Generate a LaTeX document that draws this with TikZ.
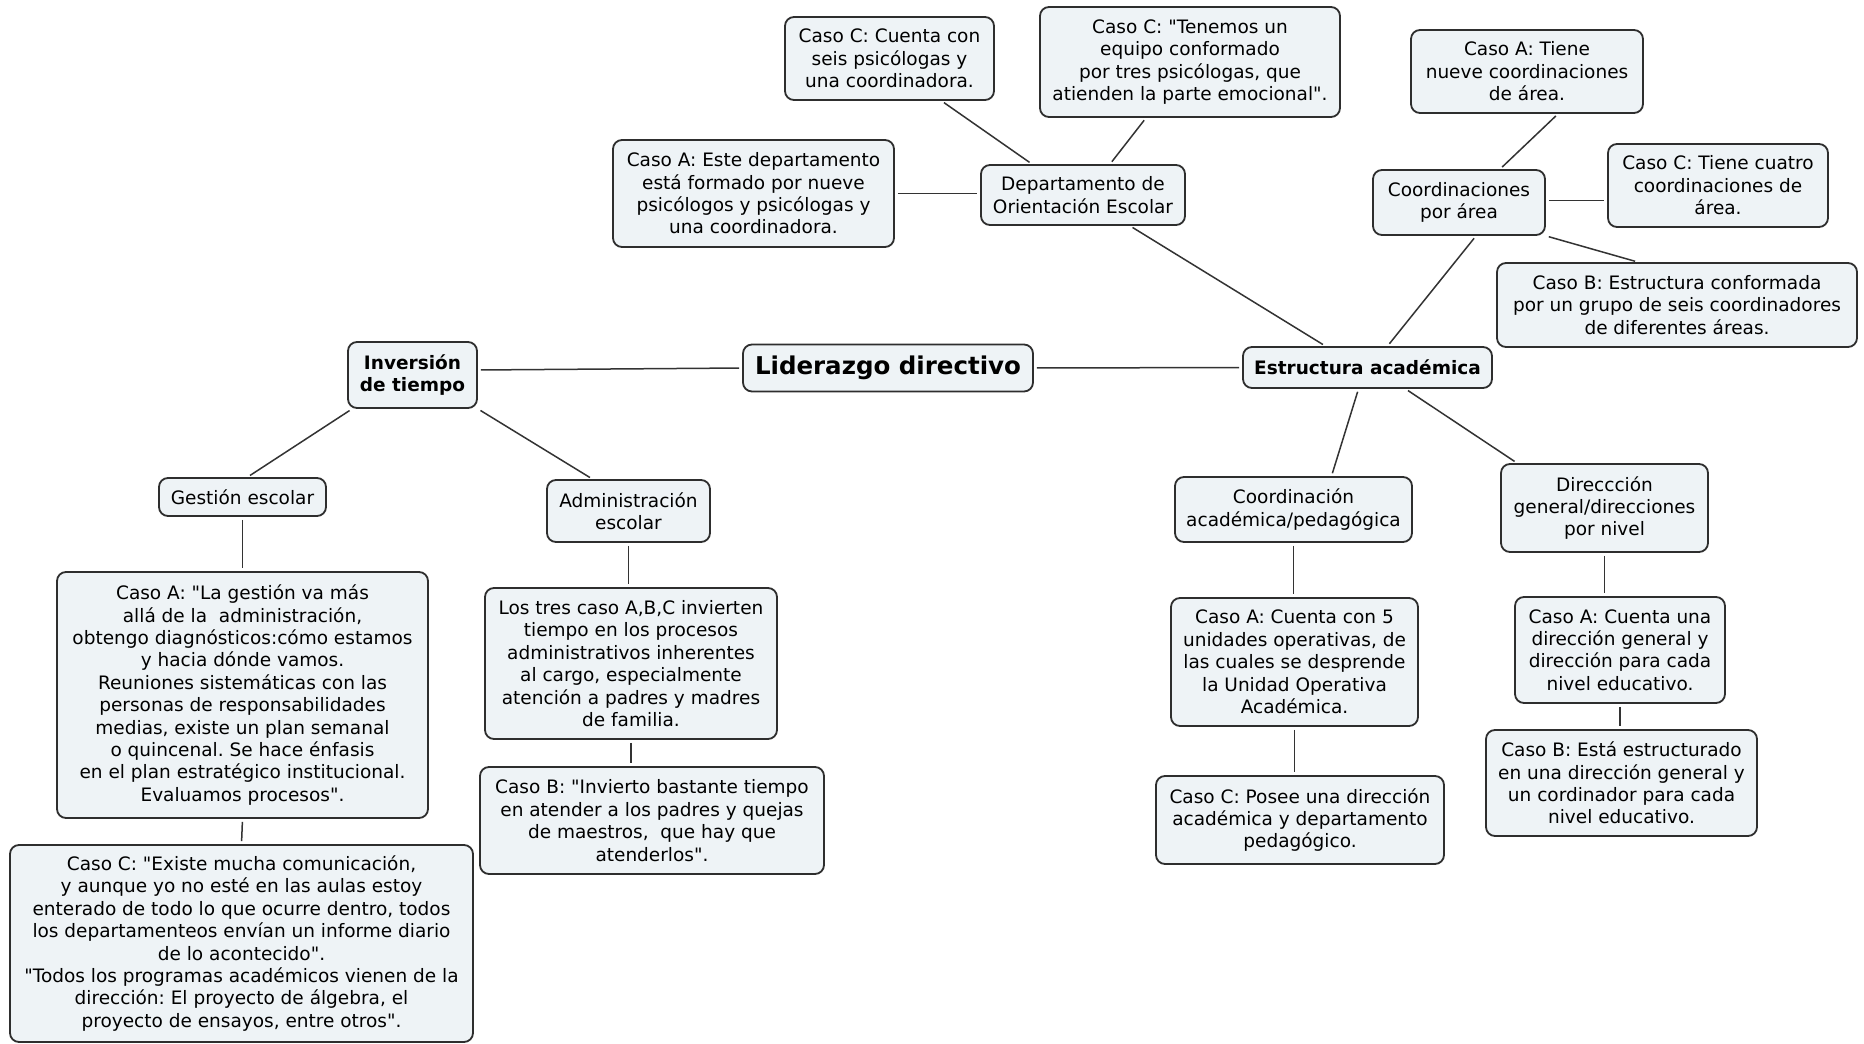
\documentclass[tikz,border=0pt]{standalone}
\usepackage{fontspec}
\setmainfont{DejaVu Sans}[Ligatures=TeXOff]
\usetikzlibrary{calc}
\definecolor{boxfill}{HTML}{EEF3F6}
\definecolor{boxline}{HTML}{2E2E2E}
\definecolor{linkline}{HTML}{333333}
% straight double quote
\newcommand{\dq}{\symbol{34}}
\frenchspacing
\begin{document}
\begin{tikzpicture}[x=1pt,y=-1pt,
  box/.style={draw=boxline, fill=boxfill, line width=1.8pt, rounded corners=9pt,
    align=center, inner sep=0pt, font=\fontsize{18.5}{22.4}\selectfont},
  bbox/.style={box, font=\fontsize{18.5}{22.4}\selectfont\bfseries},
  mainbox/.style={box, font=\fontsize{24.5}{28}\selectfont\bfseries},
  link/.style={draw=linkline, line width=1.5pt, shorten <=3pt, shorten >=3pt}]
\useasboundingbox (0,0) rectangle (1864,1044);
\fill[white] (0,0) rectangle (1864,1044);

% central topic and main branches
\node[mainbox, minimum width=290, minimum height=47] (lid) at (888,368) {Liderazgo directivo};
\node[bbox, minimum width=129, minimum height=66] (inv) at (412.5,375) {Inversión\\de tiempo};
\node[bbox, minimum width=249, minimum height=41] (est) at (1367.5,367.5) {Estructura académica};

% upper branch: orientation department
\node[box, minimum width=204, minimum height=60] (dep) at (1083,195) {Departamento de\\Orientación Escolar};
\node[box, minimum width=281, minimum height=107] (depA) at (753.5,193.5) {Caso A: Este departamento\\está formado por nueve\\psicólogos y psicólogas y\\una coordinadora.};
\node[box, minimum width=209, minimum height=83] (depC1) at (889.5,58.5) {Caso C: Cuenta con\\seis psicólogas y\\una coordinadora.};
\node[box, minimum width=300, minimum height=110] (depC2) at (1190,62) {Caso C: \dq Tenemos un\\equipo conformado\\por tres psicólogas, que\\atienden la parte emocional\dq.};

% upper branch: area coordinations
\node[box, minimum width=172, minimum height=65] (coo) at (1459,202.5) {Coordinaciones\\por área};
\node[box, minimum width=232, minimum height=83] (coA) at (1527,71.5) {Caso A: Tiene\\nueve coordinaciones\\de área.};
\node[box, minimum width=220, minimum height=83] (coC) at (1718,185.5) {Caso C: Tiene cuatro\\coordinaciones de\\área.};
\node[box, minimum width=360, minimum height=84] (coB) at (1677,305) {Caso B: Estructura conformada\\por un grupo de seis coordinadores\\de diferentes áreas.};

% lower right branches
\node[box, minimum width=237, minimum height=65] (cap) at (1293.5,509.5) {Coordinación\\académica/pedagógica};
\node[box, minimum width=207, minimum height=88] (dir) at (1604.5,508) {Direccción\\general/direcciones\\por nivel};
\node[box, minimum width=247, minimum height=128] (capA) at (1294.5,662) {Caso A: Cuenta con 5\\unidades operativas, de\\las cuales se desprende\\la Unidad Operativa\\Académica.};
\node[box, minimum width=288, minimum height=88] (capC) at (1300,820) {Caso C: Posee una dirección\\académica y departamento\\pedagógico.};
\node[box, minimum width=210, minimum height=106] (dirA) at (1620,650) {Caso A: Cuenta una\\dirección general y\\dirección para cada\\nivel educativo.};
\node[box, minimum width=271, minimum height=106] (dirB) at (1621.5,783) {Caso B: Está estructurado\\en una dirección general y\\un cordinador para cada\\nivel educativo.};

% left branches
\node[box, minimum width=167, minimum height=38] (ges) at (242.5,497) {Gestión escolar};
\node[box, minimum width=163, minimum height=62] (adm) at (628.5,511) {Administración\\escolar};
\node[box, minimum width=371, minimum height=246] (gesA) at (242.5,695) {Caso A: \dq La gestión va más\\allá de la\ \ administración,\\obtengo diagnósticos:cómo estamos\\y hacia dónde vamos.\\Reuniones sistemáticas con las\\personas de responsabilidades\\medias, existe un plan semanal\\o quincenal. Se hace énfasis\\en el plan estratégico institucional.\\Evaluamos procesos\dq.};
\node[box, minimum width=463, minimum height=197] (gesC) at (241.5,943.5) {Caso C: \dq Existe mucha comunicación,\\y aunque yo no esté en las aulas estoy\\enterado de todo lo que ocurre dentro, todos\\los departamenteos envían un informe diario\\de lo acontecido\dq.\\\dq Todos los programas académicos vienen de la\\dirección: El proyecto de álgebra, el\\proyecto de ensayos, entre otros\dq.};
\node[box, minimum width=292, minimum height=151] (admA) at (631,663.5) {Los tres caso A,B,C invierten\\tiempo en los procesos\\administrativos inherentes\\al cargo, especialmente\\atención a padres y madres\\de familia.};
\node[box, minimum width=344, minimum height=107] (admB) at (652,820.5) {Caso B: \dq Invierto bastante tiempo\\en atender a los padres y quejas\\de maestros,\ \ que hay que\\atenderlos\dq.};

% connectors
\draw[link] ([yshift=5pt]inv.east) -- ([yshift=0pt]lid.west);
\draw[link] (lid.east) -- (est.west);
\draw[link] ([xshift=5pt]inv.south west) -- ([xshift=5pt]ges.north);
\draw[link] (inv.south east) -- ([xshift=-36pt]adm.north);
\draw[link] (ges.south) -- (ges.south |- gesA.north);
\draw[link] (gesA.south) -- (gesC.north);
\draw[link] (adm.south) -- (adm.south |- admA.north);
\draw[link] (admA.south) -- (admA.south |- admB.north);

\draw[link] ([xshift=-42pt]est.north) -- ([xshift=47pt]dep.south);
\draw[link] ([xshift=20pt]est.north) -- ([xshift=17pt]coo.south);
\draw[link] ([xshift=-9pt]est.south) -- ([xshift=38pt]cap.north);
\draw[link] ([xshift=38pt]est.south) -- ([xshift=17pt]dir.north west);

\draw[link] (cap.south) -- (cap.south |- capA.north);
\draw[link] (capA.south) -- (capA.south |- capC.north);
\draw[link] (dir.south) -- (dir.south |- dirA.north);
\draw[link] (dirA.south) -- (dirA.south |- dirB.north);

\draw[link] (depA.east) -- (depA.east -| dep.west);
\draw[link] ([xshift=52pt]depC1.south) -- ([xshift=-51pt]dep.north);
\draw[link] ([xshift=-44pt]depC2.south) -- ([xshift=27pt]dep.north);

\draw[link] ([xshift=31pt]coA.south) -- ([xshift=41pt]coo.north);
\draw[link] ([yshift=2pt]coo.east) -- ([yshift=2pt]coo.east -| coC.west);
\draw[link] (coo.south east) -- ([xshift=-39pt]coB.north);
\end{tikzpicture}
\end{document}
